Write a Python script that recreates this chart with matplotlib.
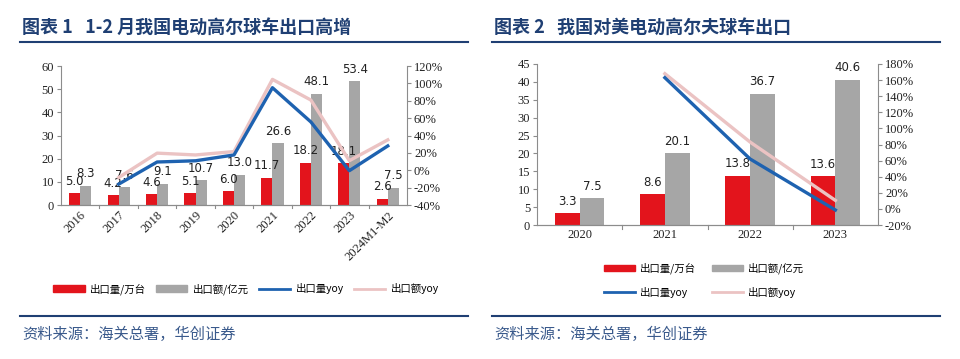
import matplotlib
matplotlib.use("Agg")
import matplotlib.pyplot as plt
import numpy as np
from matplotlib.lines import Line2D
from matplotlib.patches import Patch

plt.rcParams['font.family'] = ['Noto Sans CJK SC', 'DejaVu Sans']

# ---------------- data ----------------
cats1 = ["2016", "2017", "2018", "2019", "2020", "2021", "2022", "2023", "2024M1-M2"]
vol1 = [5.0, 4.2, 4.6, 5.1, 6.0, 11.7, 18.2, 18.1, 2.6]          # 出口量/万台
val1 = [8.3, 7.6, 9.1, 10.7, 13.0, 26.6, 48.1, 53.4, 7.5]        # 出口额/亿元
vol_yoy1 = [np.nan, -16, 9.5, 10.9, 17.6, 95, 55.6, -0.5, 28]    # 出口量yoy %
val_yoy1 = [np.nan, -8.4, 19.7, 17.6, 21.5, 104.6, 80.8, 11, 35] # 出口额yoy %

cats2 = ["2020", "2021", "2022", "2023"]
vol2 = [3.3, 8.6, 13.8, 13.6]
val2 = [7.5, 20.1, 36.7, 40.6]
vol_yoy2 = [np.nan, 163, 62, -1.4]
val_yoy2 = [np.nan, 168, 83, 10.6]

title1 = "图表 1   1-2 月我国电动高尔球车出口高增"
title2 = "图表 2   我国对美电动高尔夫球车出口"
source = "资料来源：海关总署，华创证券"
leg_labels = ["出口量/万台", "出口额/亿元", "出口量yoy", "出口额yoy"]

# ---------------- style ----------------
RED = "#E3141C"
GRAY = "#A6A6A6"
BLUE = "#1E62B0"
PINK = "#EBC3C3"
NAVY = "#1F3F73"
SPINE = "#8C8C8C"
serif = ["Liberation Serif", "DejaVu Serif"]

W, H = 960, 359
fig = plt.figure(figsize=(W / 100, H / 100), dpi=100)


def ax_at(x0, y0, x1, y1):
    return fig.add_axes([x0 / W, 1 - y1 / H, (x1 - x0) / W, (y1 - y0) / H])


def style_axes(ax, ax2):
    for a in (ax, ax2):
        a.spines['top'].set_visible(False)
        for s in ('left', 'right', 'bottom'):
            a.spines[s].set_color(SPINE)
            a.spines[s].set_linewidth(0.8)
        a.tick_params(axis='y', length=3, width=0.8, color=SPINE, labelsize=9, pad=2,
                      labelcolor="#222222")
        for lbl in a.get_yticklabels():
            lbl.set_fontfamily(serif)
    ax.tick_params(axis='x', length=0, labelsize=9, pad=3, labelcolor="#222222")
    ax2.spines['left'].set_visible(False)
    ax.spines['right'].set_visible(False)


def draw_panel(ax, cats, vol, val, vyoy, ayoy, ymax, ystep, ymin2, ymax2, step2, rot):
    x = np.arange(len(cats))
    bw = 0.29
    b1 = ax.bar(x - bw / 2, vol, bw, color=RED, zorder=2)
    b2 = ax.bar(x + bw / 2, val, bw, color=GRAY, zorder=2)
    ax.set_xlim(-0.5, len(cats) - 0.5)
    ax.set_ylim(0, ymax)
    ax.set_yticks(np.arange(0, ymax + 0.1, ystep))
    # boundary ticks on x axis
    for b in np.arange(0.5, len(cats) - 0.5, 1):
        ax.plot([b, b], [0, -ymax * 0.025], color=SPINE, lw=0.8, clip_on=False, zorder=3)
    ax.set_xticks(x)
    if rot:
        ax.set_xticklabels(cats, rotation=45, ha='right', rotation_mode='anchor', family=serif)
    else:
        ax.set_xticklabels(cats, family=serif)
    ax2 = ax.twinx()
    ax2.plot(x, ayoy, color=PINK, lw=2.4, zorder=3)
    ax2.plot(x, vyoy, color=BLUE, lw=2.4, zorder=4)
    ax2.set_ylim(ymin2, ymax2)
    ax2.set_yticks(np.arange(ymin2, ymax2 + 0.1, step2))
    ax2.set_yticklabels([f"{v:.0f}%" for v in np.arange(ymin2, ymax2 + 0.1, step2)])
    style_axes(ax, ax2)
    for bars in (b1, b2):
        labs = ax.bar_label(bars, fmt="%.1f", padding=4, fontsize=8.5, color="#222222",
                            family=['DejaVu Sans'])
        for t in labs:
            t.set_zorder(6)
            t.set_clip_on(False)
    return ax2


# ---------------- left panel ----------------
axL = ax_at(61, 66, 407, 205)
draw_panel(axL, cats1, vol1, val1, vol_yoy1, val_yoy1, 60, 10, -40, 120, 20, True)

# ---------------- right panel ----------------
axR = ax_at(537, 64, 878, 225)
draw_panel(axR, cats2, vol2, val2, vol_yoy2, val_yoy2, 45, 5, -20, 180, 20, False)

# ---------------- titles / rules / sources ----------------
fig.text(22 / W, 1 - 27 / H, title1, fontsize=13, fontweight='bold', color=NAVY, va='center')
fig.text(494 / W, 1 - 27 / H, title2, fontsize=13, fontweight='bold', color=NAVY, va='center')
for x0, x1 in ((20, 468), (492, 940)):
    fig.add_artist(Line2D([x0 / W, x1 / W], [1 - 42 / H] * 2, color=NAVY, lw=1.5))
    fig.add_artist(Line2D([x0 / W, x1 / W], [1 - 316 / H] * 2, color=NAVY, lw=1.5))
fig.text(22 / W, 1 - 334 / H, source, fontsize=11, color="#3A5A8C", va='center', style='italic')
fig.text(494 / W, 1 - 334 / H, source, fontsize=11, color="#3A5A8C", va='center', style='italic')

h_red, h_gray = Patch(color=RED), Patch(color=GRAY)
h_blue = Line2D([], [], color=BLUE, lw=2)
h_pink = Line2D([], [], color=PINK, lw=2)
fig.legend([h_red, h_gray, h_blue, h_pink], leg_labels, loc='center',
           bbox_to_anchor=(246 / W, 1 - 289 / H),
           ncol=4, frameon=False, fontsize=7.5, handlelength=3.0, handleheight=0.6,
           columnspacing=1.0, handletextpad=0.5)
fig.legend([h_red, h_blue, h_gray, h_pink],
           [leg_labels[0], leg_labels[2], leg_labels[1], leg_labels[3]], loc='center',
           bbox_to_anchor=(704 / W, 1 - 280 / H),
           ncol=2, frameon=False, fontsize=7.5, handlelength=3.0, handleheight=0.6,
           columnspacing=1.5, handletextpad=0.5, labelspacing=1.2)

fig.savefig("out.png", dpi=100)
